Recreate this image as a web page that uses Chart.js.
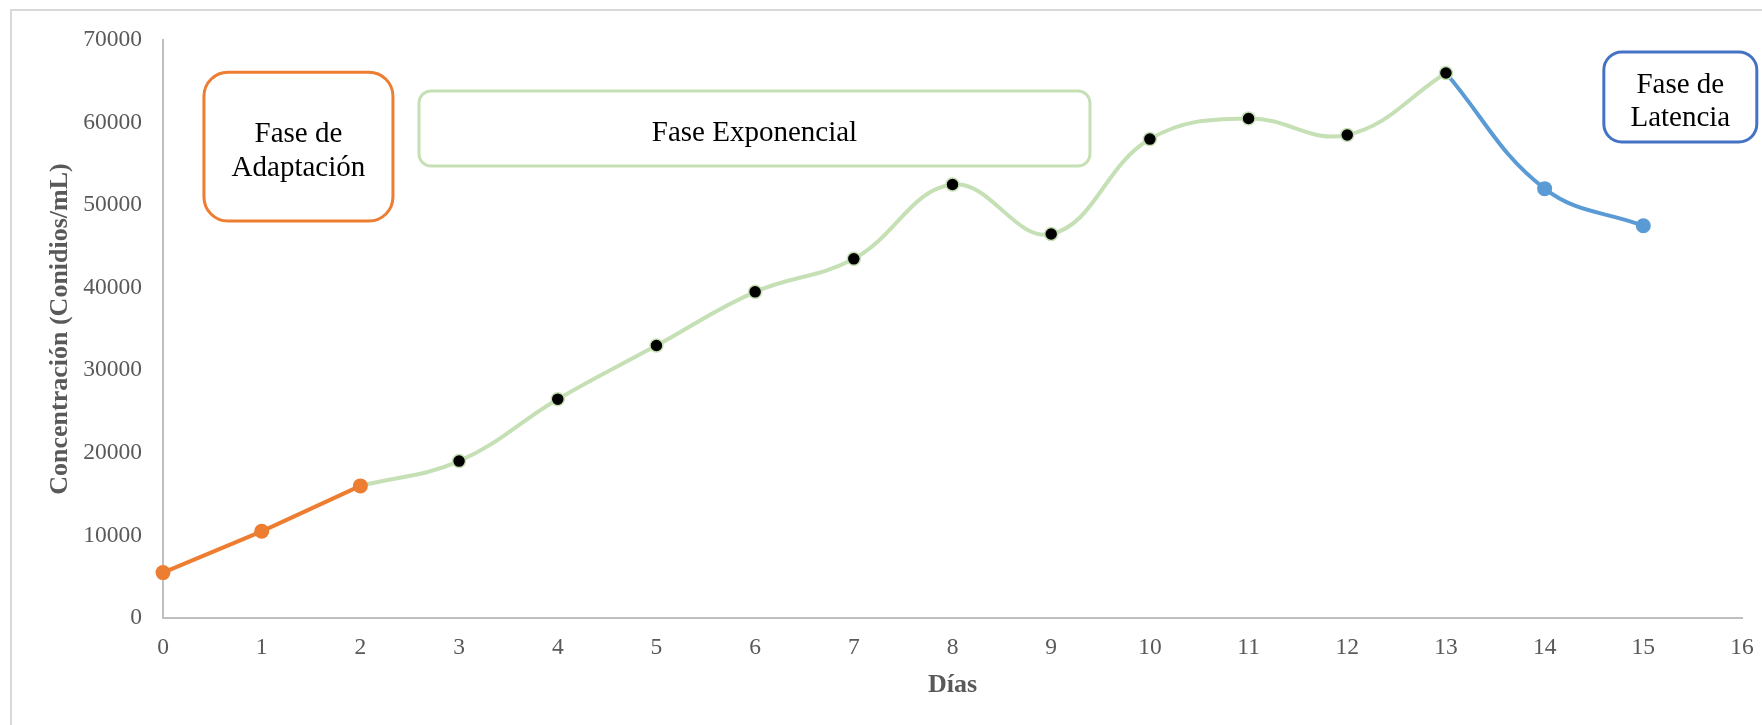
<!DOCTYPE html>
<html>
<head>
<meta charset="utf-8">
<title>Concentración de conidios por día</title>
<script src="https://cdn.jsdelivr.net/npm/chart.js@4.4.1/dist/chart.umd.min.js"></script>
<style>
  html, body { margin: 0; padding: 0; background: #ffffff; }
  #wrap { width: 1762px; height: 725px; position: relative; }
</style>
</head>
<body>
<div id="wrap"><canvas id="chart" width="1762" height="725"></canvas></div>
<script>
// Días de cultivo y concentración medida (conidios/mL)
const days = [0, 1, 2, 3, 4, 5, 6, 7, 8, 9, 10, 11, 12, 13, 14, 15];
const concentration = [5500, 10500, 16000, 19000, 26500, 33000, 39500, 43500,
                       52500, 46500, 58000, 60500, 58500, 66000, 52000, 47500];

// Límites de cada fase (índices de día, inclusive)
const adaptationDays = [0, 2];
const exponentialDays = [2, 13];
const latencyDays = [13, 15];

// Ejes
const xTicks = [0, 16, 1];        // min, max, paso
const yTicks = [0, 70000, 10000]; // min, max, paso

// Rótulos de las fases
const phaseLabels = [
  { lines: ['Fase de', 'Adaptación'], x0: 0.415, x1: 2.33, y0: 66100, y1: 48080, color: '#ED7D31', radius: 24, shift: 5, lh: 34 },
  { lines: ['Fase Exponencial'], x0: 2.594, x1: 9.393, y0: 63820, y1: 54740, color: '#C5E0B4', radius: 12, shift: 5, lh: 34 },
  { lines: ['Fase de', 'Latencia'], x0: 14.60, x1: 16.15, y0: 68550, y1: 57650, color: '#4472C4', radius: 18, shift: 5, lh: 33 }
];

function segment(range) {
  const pts = [];
  for (let i = range[0]; i <= range[1]; i++) pts.push({ x: days[i], y: concentration[i] });
  return pts;
}

const serif = "'Liberation Serif', 'Times New Roman', serif";

// Marco exterior del gráfico
const framePlugin = {
  id: 'frame',
  beforeDraw(chart) {
    const ctx = chart.ctx;
    ctx.save();
    ctx.strokeStyle = '#D9D9D9';
    ctx.lineWidth = 2;
    ctx.beginPath();
    ctx.moveTo(11, chart.height);
    ctx.lineTo(11, 10);
    ctx.lineTo(chart.width, 10);
    ctx.stroke();
    ctx.restore();
  }
};

// Cuadros de texto de cada fase, ubicados en coordenadas de datos
const phasePlugin = {
  id: 'phases',
  afterDatasetsDraw(chart) {
    const ctx = chart.ctx;
    const xs = chart.scales.x, ys = chart.scales.y;
    ctx.save();
    phaseLabels.forEach(p => {
      const left = xs.getPixelForValue(p.x0);
      const right = xs.getPixelForValue(p.x1);
      const top = ys.getPixelForValue(p.y0);
      const bottom = ys.getPixelForValue(p.y1);
      ctx.beginPath();
      ctx.roundRect(left, top, right - left, bottom - top, p.radius);
      ctx.fillStyle = '#ffffff';
      ctx.fill();
      ctx.lineWidth = 3;
      ctx.strokeStyle = p.color;
      ctx.stroke();
      ctx.fillStyle = '#000000';
      ctx.font = '29px ' + serif;
      ctx.textAlign = 'center';
      ctx.textBaseline = 'middle';
      const cx = (left + right) / 2;
      const cy = (top + bottom) / 2;
      p.lines.forEach((line, i) => {
        const y = cy + (i - (p.lines.length - 1) / 2) * p.lh + p.shift;
        ctx.fillText(line, cx, y);
      });
    });
    ctx.restore();
  }
};

const exponentialPts = segment(exponentialDays);
const expRadius = exponentialPts.map((p, i) => (i === 0 ? 0 : 6.5));

new Chart(document.getElementById('chart'), {
  type: 'line',
  data: {
    datasets: [
      {
        label: 'Adaptación',
        data: segment(adaptationDays),
        borderColor: '#ED7D31',
        backgroundColor: '#ED7D31',
        borderWidth: 4,
        pointRadius: 7.5,
        pointBorderWidth: 0,
        tension: 0,
        clip: false,
        order: 0
      },
      {
        label: 'Exponencial',
        data: exponentialPts,
        borderColor: '#C5E0B4',
        backgroundColor: '#000000',
        borderWidth: 4,
        pointRadius: expRadius,
        pointBackgroundColor: '#000000',
        pointBorderColor: '#C5E0B4',
        pointBorderWidth: 1.5,
        tension: 0.4,
        clip: false,
        order: 1
      },
      {
        label: 'Latencia',
        data: segment(latencyDays),
        borderColor: '#5B9BD5',
        backgroundColor: '#5B9BD5',
        borderWidth: 4,
        pointRadius: [0, 7.5, 7.5],
        pointBorderWidth: 0,
        tension: 0.4,
        clip: false,
        order: 2
      }
    ]
  },
  options: {
    responsive: false,
    animation: false,
    events: [],
    layout: { padding: { left: 0, top: 40, right: 20, bottom: 0 } },
    plugins: { legend: { display: false }, tooltip: { enabled: false } },
    scales: {
      x: {
        type: 'linear',
        min: xTicks[0],
        max: xTicks[1],
        ticks: { stepSize: xTicks[2], color: '#595959', padding: 16, font: { family: serif, size: 23.5 },
                 callback: v => String(v) },
        grid: { display: false, drawTicks: false },
        border: { display: true, color: '#BFBFBF', width: 2 },
        title: { display: true, text: 'Días', color: '#595959', padding: { top: 0, bottom: 24 }, font: { family: serif, size: 26, weight: 'bold' } },
        afterFit(scale) {
          scale.height = 107;
          scale.paddingLeft = 0;
          scale.paddingRight = 0;
        }
      },
      y: {
        min: yTicks[0],
        max: yTicks[1],
        ticks: { stepSize: yTicks[2], color: '#595959', padding: 21, font: { family: serif, size: 23.5 },
                 callback: v => String(v) },
        grid: { display: false, drawTicks: false },
        border: { display: true, color: '#BFBFBF', width: 2 },
        title: { display: true, text: 'Concentración (Conidios/mL)', color: '#595959', padding: { top: 45, bottom: 0 }, font: { family: serif, size: 26, weight: 'bold' } },
        afterFit(scale) {
          scale.width = 163;
          scale.paddingTop = 0;
          scale.paddingBottom = 0;
        }
      }
    }
  },
  plugins: [framePlugin, phasePlugin]
});
</script>
</body>
</html>
